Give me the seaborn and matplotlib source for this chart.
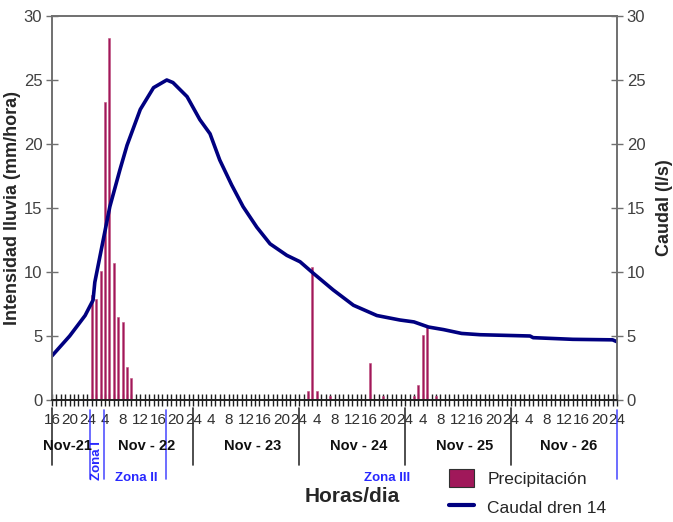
import matplotlib
matplotlib.use("Agg")
import matplotlib.pyplot as plt
import matplotlib.transforms as mtransforms
from matplotlib.lines import Line2D
from matplotlib.patches import Patch
import numpy as np
import pandas as pd
import seaborn as sns

# %% Data (hours counted from Nov-21 16:00)
rain_hours = [9, 10, 11, 12, 13, 14, 15, 16, 17, 18, 58, 59, 60, 63, 72, 75, 82, 83, 84, 85, 87]
rain_mm = [8.2, 7.9, 10.1, 23.3, 28.3, 10.7, 6.5, 6.1, 2.6, 1.7,
           0.7, 10.4, 0.7, 0.3, 2.9, 0.3, 0.3, 1.2, 5.1, 5.8, 0.3]

flow_hours = [0, 4, 7.5, 9.3, 9.7, 11.6, 13.1, 15.4, 17, 20, 23, 26, 27.4, 30.6,
              33.5, 35.8, 38, 40.7, 43.3, 46.4, 49.4, 53.2, 56.2, 59.2, 63.7,
              68.3, 73.6, 78.8, 82, 85.3, 88.7, 92.8, 97, 108.3, 109, 118, 127, 128]
flow_ls = [3.45, 5.0, 6.6, 7.8, 9.2, 12.5, 15.1, 18.0, 19.9, 22.7, 24.4, 25.0, 24.8, 23.7,
           21.9, 20.8, 18.75, 16.8, 15.1, 13.5, 12.2, 11.3, 10.8, 9.9, 8.6,
           7.4, 6.6, 6.25, 6.1, 5.7, 5.5, 5.2, 5.1, 5.0, 4.87, 4.74, 4.7, 4.55]

day_labels = ["Nov-21", "Nov - 22", "Nov - 23", "Nov - 24", "Nov - 25", "Nov - 26"]
day_label_hours = [3.5, 21.5, 45.5, 69.5, 93.5, 117]
day_bounds = [0, 32, 56, 80, 104]
zone_bounds = [8.6, 11.8, 25.8, 128]
start_hour = 16

df_rain = pd.DataFrame({"hour": rain_hours, "mm": rain_mm})
df_flow = pd.DataFrame({"hour": flow_hours, "ls": flow_ls})

# %% Plot
sns.set_theme(style="ticks")
plt.rcParams["font.family"] = ["Liberation Sans", "DejaVu Sans"]

W, H = 673, 522
fig = plt.figure(figsize=(W / 100, H / 100), dpi=100)
ax = fig.add_axes([52 / W, 1 - 400 / H, 565 / W, 384 / H])

bar_col = "#A0185A"
line_col = "#000080"
blue = "#2828FF"
grey = "#707070"

sns.barplot(data=df_rain, x="hour", y="mm", native_scale=True, width=0.45,
            color=bar_col, saturation=1, edgecolor="#C05080", linewidth=0.4, ax=ax)
ax2 = ax.twinx()
sns.lineplot(data=df_flow, x="hour", y="ls", color=line_col, linewidth=2.6, ax=ax2)

for a in (ax, ax2):
    a.set_xlim(0, 128)
    a.set_ylim(0, 30)
    a.set_yticks(np.arange(0, 31, 5))
    a.set_xlabel("")
    for s in a.spines.values():
        s.set_color(grey)
        s.set_linewidth(1.2)
    a.tick_params(axis="y", direction="inout", length=8, width=1, color=grey,
                  labelsize=12, labelcolor="#404040", pad=3)

ax.set_ylabel("Intensidad lluvia (mm/hora)", fontsize=13, fontweight="bold", labelpad=2)
ax2.set_ylabel("Caudal (l/s)", fontsize=13, fontweight="bold", labelpad=8)
ax2.spines["bottom"].set_color("#202020")
ax.spines["bottom"].set_color("#202020")

major = np.arange(0, 129, 4)
ax.set_xticks(major)
ax.set_xticklabels([str((start_hour + h) % 24 or 24) for h in major])
ax.set_xticks(np.arange(0, 129, 1), minor=True)
ax.tick_params(axis="x", which="both", direction="inout", length=8, width=1,
               color="#202020", labelsize=11, labelcolor="#303030", pad=5)
ax2.tick_params(axis="x", which="both", bottom=False, labelbottom=False)

trans = mtransforms.blended_transform_factory(ax.transData, ax.transAxes)
for h in day_bounds:
    ax.plot([h, h], [-0.021, -0.17], color="#303030", lw=1.2, transform=trans, clip_on=False)
for h in zone_bounds:
    ax.plot([h, h], [-0.025, -0.205], color=blue, lw=1.2, alpha=0.8,
            transform=trans, clip_on=False)
for lab, h in zip(day_labels, day_label_hours):
    ax.text(h, -0.12, lab, transform=trans, ha="center", va="center",
            fontsize=10.5, fontweight="bold", color="#101010")

ax.text(10.2, -0.158, "Zona I", transform=trans, ha="center", va="center", rotation=90,
        fontsize=9.5, fontweight="bold", color=blue)
ax.text(19, -0.202, "Zona II", transform=trans, ha="center", va="center",
        fontsize=9.5, fontweight="bold", color=blue)
ax.text(76, -0.202, "Zona III", transform=trans, ha="center", va="center",
        fontsize=9.5, fontweight="bold", color=blue)

fig.text(352 / W, 1 - 497 / H, "Horas/dia", ha="center", va="center",
         fontsize=15, fontweight="bold")

handles = [Patch(facecolor=bar_col, edgecolor="#303030", linewidth=0.8),
           Line2D([0], [0], color=line_col, lw=3)]
fig.legend(handles, ["Precipitación", "Caudal dren 14"], loc="upper left",
           bbox_to_anchor=(442 / W, 1 - 462 / H), frameon=False, fontsize=12.5,
           handlelength=1.45, handleheight=1.25, handletextpad=0.75, labelspacing=0.6,
           borderaxespad=0)

fig.savefig("out.png", dpi=100)
